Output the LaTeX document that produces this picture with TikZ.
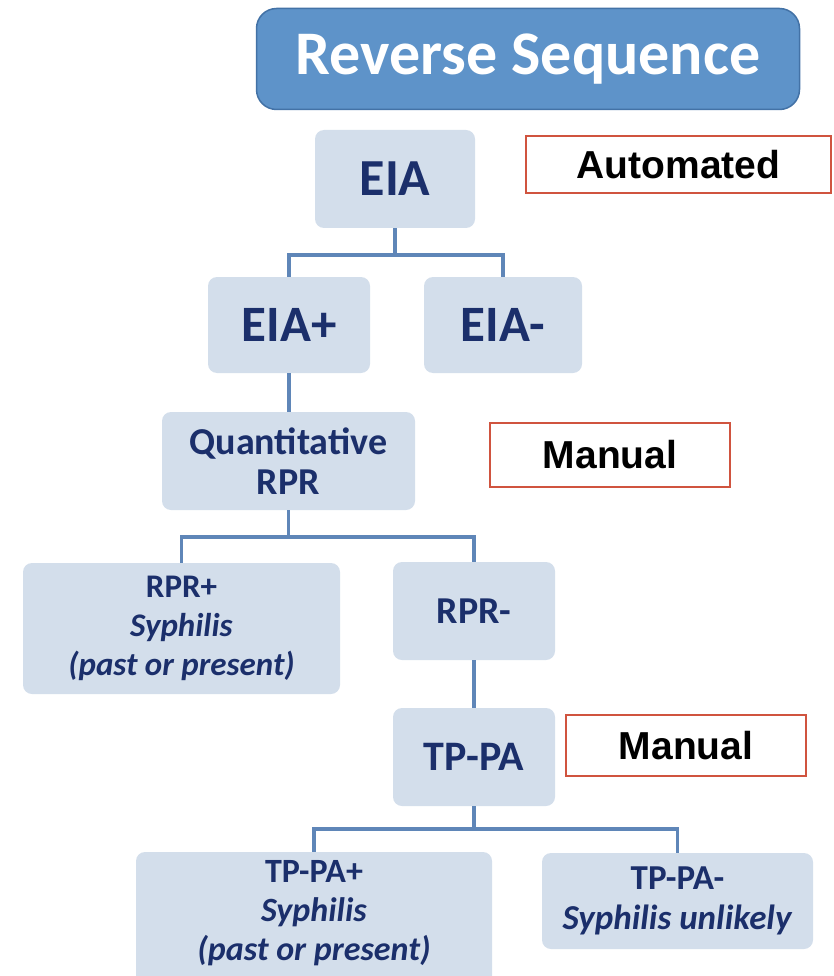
\documentclass[tikz,border=0pt]{standalone}
\usepackage{fontspec}
\setmainfont{Carlito}
\newfontfamily\arialf{Liberation Sans}
\definecolor{boxfill}{HTML}{D3DEEB}
\definecolor{navy}{HTML}{1B2F6B}
\definecolor{connc}{HTML}{5F86B8}
\definecolor{titlefill}{HTML}{5E93C9}
\definecolor{titledraw}{HTML}{4372A6}
\definecolor{redb}{HTML}{D0543F}
\tikzset{
  bx/.style={fill=boxfill, rounded corners=9pt, inner sep=0pt, align=center,
    text=navy, font=\bfseries},
  bxtext/.style={inner sep=0pt, align=center, text=navy},
  tagbox/.style={draw=redb, line width=2.2pt, fill=white, inner sep=0pt,
    font=\arialf\bfseries\fontsize{39}{40}\selectfont, text=black},
  conn/.style={draw=connc, line width=3.5pt},
}
\begin{document}
\begin{tikzpicture}[x=1pt,y=-1pt]
\useasboundingbox (0,0) rectangle (833,976);
\clip (0,0) rectangle (833,976);
% title
\node[fill=titlefill, draw=titledraw, line width=1.5pt, rounded corners=20pt,
  minimum width=543pt, minimum height=101pt, inner sep=0pt, text=white,
  font=\bfseries\fontsize{62}{64}\selectfont] (title) at (528,59) {Reverse Sequence};
% boxes
\node[bx, minimum width=160pt, minimum height=98pt, font=\bfseries\fontsize{52}{54}\selectfont] (eia) at (395,179) {EIA};
\node[bx, minimum width=162pt, minimum height=96pt, font=\bfseries\fontsize{51}{53}\selectfont] (eiap) at (289,325) {EIA+};
\node[bx, minimum width=158pt, minimum height=96pt, font=\bfseries\fontsize{51}{53}\selectfont] (eiam) at (503,325) {EIA-};
\node[bx, minimum width=253pt, minimum height=98pt, font=\bfseries\fontsize{38}{40}\selectfont] (qrpr) at (288.5,461) {Quantitative\\RPR};
\node[bx, minimum width=317pt, minimum height=131pt, font=\bfseries\fontsize{33}{39}\selectfont] (rprp) at (181.5,628.5) {RPR+\\\textit{Syphilis}\\\textit{(past or present)}};
\node[bx, minimum width=162pt, minimum height=98pt, font=\bfseries\fontsize{38}{40}\selectfont] (rprm) at (474,611) {RPR-};
\node[bx, minimum width=162pt, minimum height=98pt, font=\bfseries\fontsize{42}{44}\selectfont] (tppa) at (474,757) {TP-PA};
\node[bx, minimum width=356pt, minimum height=150pt] (tppap) at (314,927) {};
\node[bxtext, font=\bfseries\fontsize{34}{39}\selectfont] (tppaptxt) at (314,913) {TP-PA+\\\textit{Syphilis}\\\textit{(past or present)}};
\node[bx, minimum width=271pt, minimum height=96pt, font=\bfseries\fontsize{35}{40}\selectfont] (tppam) at (677.5,901) {TP-PA-\\\textit{Syphilis unlikely}};
% tags
\node[tagbox, minimum width=305pt, minimum height=57pt] (auto) at (678.5,164.5) {Automated};
\node[tagbox, minimum width=240pt, minimum height=64pt] (man1) at (610,455) {Manual};
\node[tagbox, minimum width=240pt, minimum height=61pt] (man2) at (686,745.5) {Manual};
% connectors
\coordinate (j1) at (395,255);
\coordinate (j2) at (288.5,537);
\coordinate (j3) at (474,829);
\draw[conn] (eia.south) -- (j1);
\draw[conn] (eiap.north) |- (j1) -| (eiam.north);
\draw[conn] (eiap.south) -- (eiap.south |- qrpr.north);
\draw[conn] (qrpr.south) -- (j2);
\draw[conn] (rprp.north) |- (j2) -| (rprm.north);
\draw[conn] (rprm.south) -- (tppa.north);
\draw[conn] (tppa.south) -- (j3);
\draw[conn] (tppap.north) |- (j3) -| (tppam.north);
\end{tikzpicture}
\end{document}
